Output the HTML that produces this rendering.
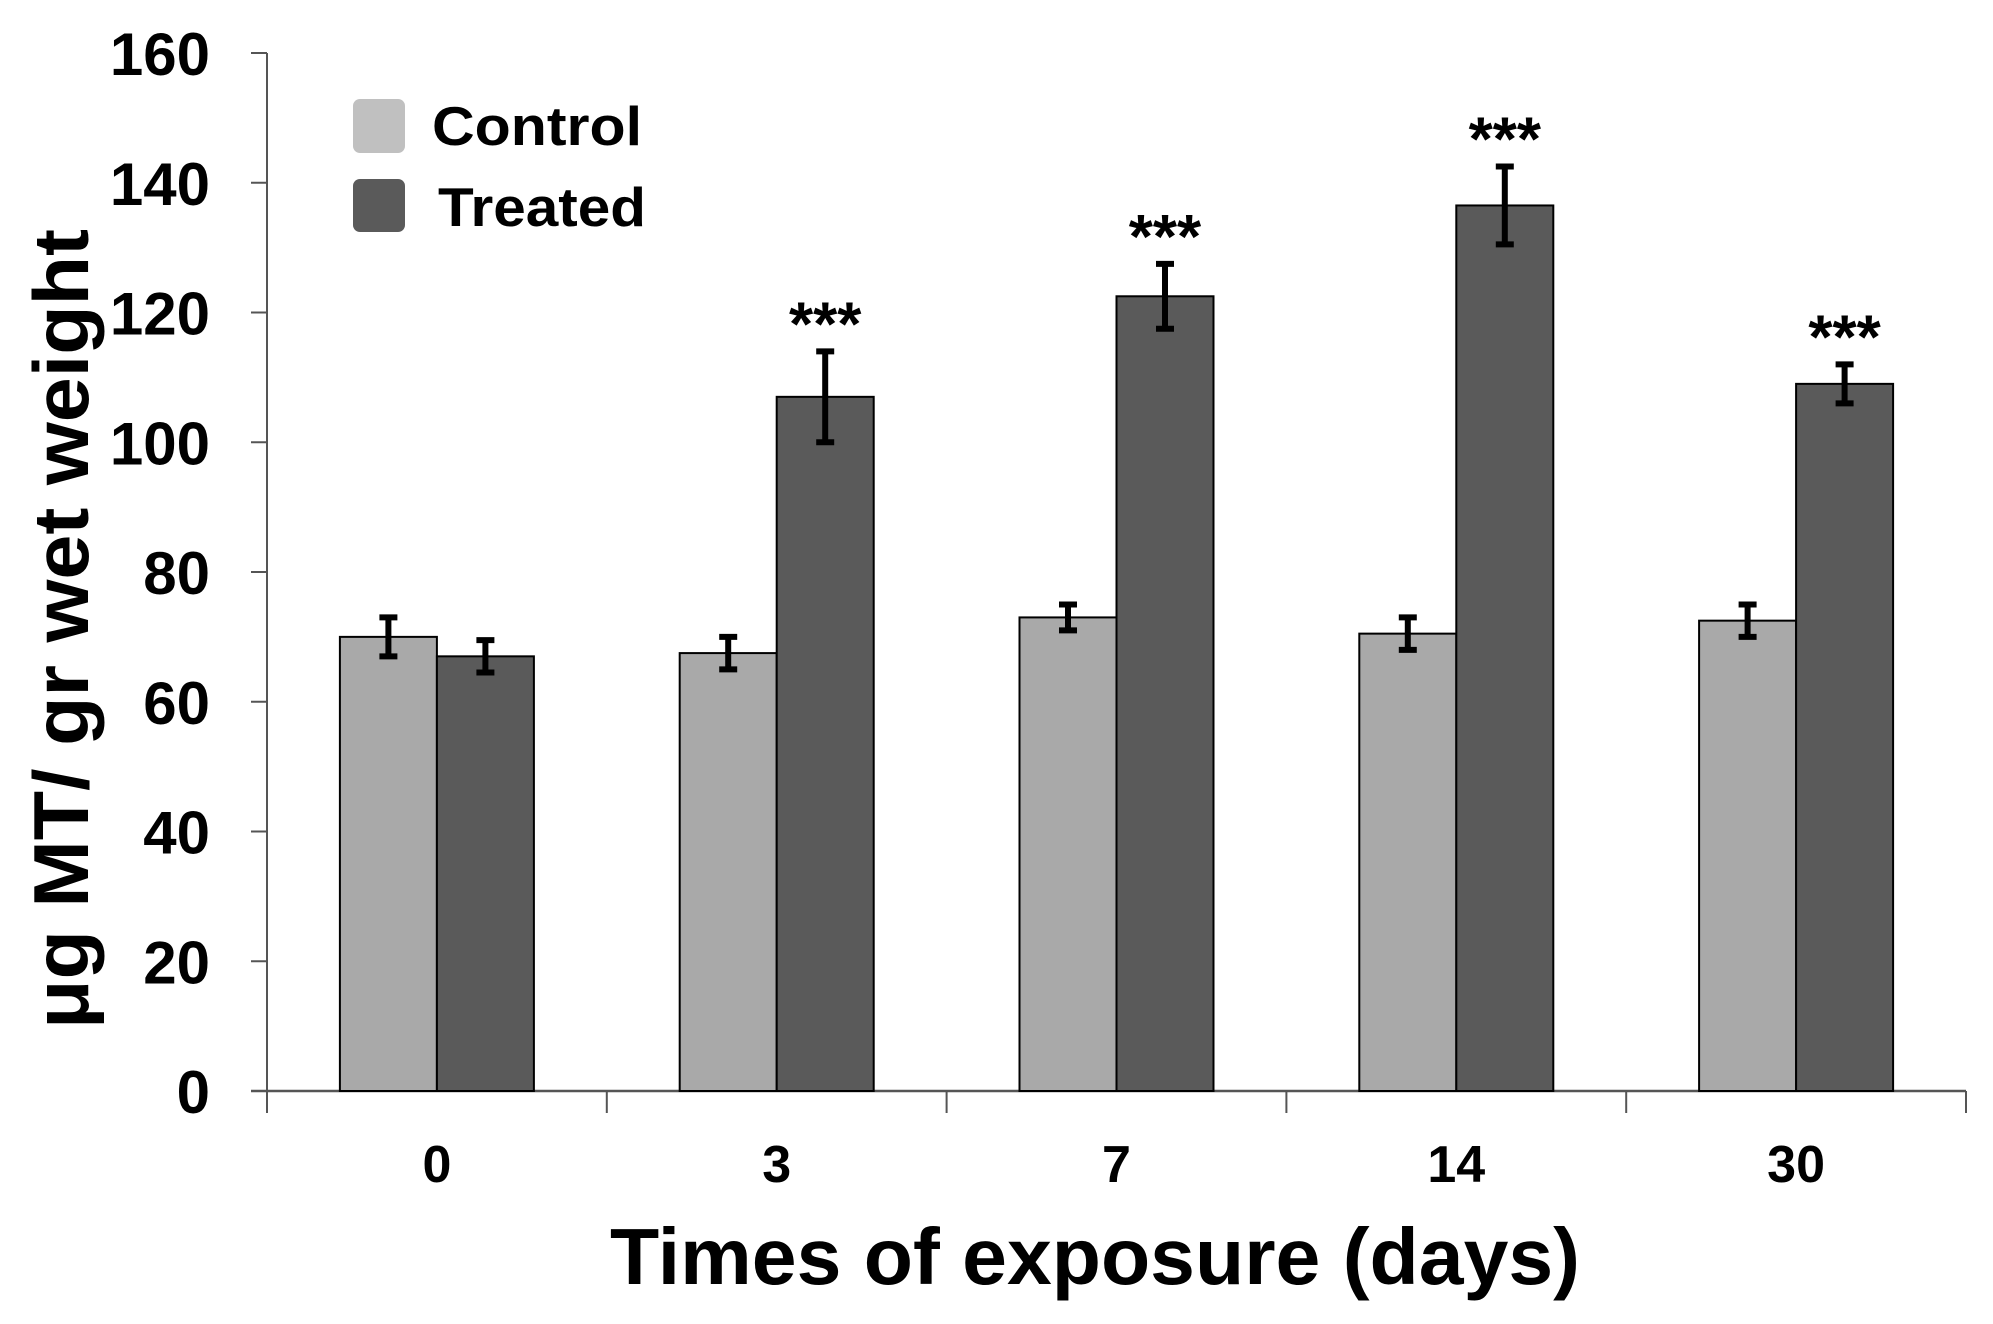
<!DOCTYPE html>
<html><head><meta charset="utf-8"><style>
html,body{margin:0;padding:0;background:#fff;}
svg{display:block;font-family:"Liberation Sans",Arial,sans-serif;font-weight:bold;}
</style></head><body>
<svg id="chart" width="1993" height="1324" viewBox="0 0 1993 1324">
<g id="axes"></g><g id="bars"></g>
<text transform="translate(88,629) rotate(-90)" text-anchor="middle" font-size="78" textLength="800" lengthAdjust="spacingAndGlyphs">μg MT/ gr wet weight</text>
<text x="1095" y="1284" text-anchor="middle" font-size="80" textLength="970" lengthAdjust="spacingAndGlyphs">Times of exposure (days)</text>
<g>
<rect x="353" y="99" width="52" height="54" rx="7" fill="#c0c0c0"/>
<text x="432" y="145" font-size="55" textLength="210" lengthAdjust="spacingAndGlyphs">Control</text>
<rect x="353" y="179" width="52" height="53" rx="7" fill="#5a5a5a"/>
<text x="438" y="226" font-size="55" textLength="208" lengthAdjust="spacingAndGlyphs">Treated</text>
</g>
</svg>
<script>
const categories = ["0","3","7","14","30"];
const controlValues = [70,67.5,73,70.5,72.5];
const controlErrors = [3,2.5,2,2.5,2.5];
const treatedValues = [67,107,122.5,136.5,109];
const treatedErrors = [2.5,7,5,6,3];
const significance = ["","***","***","***","***"];
const yTicks = [0,20,40,60,80,100,120,140,160];

const NS="http://www.w3.org/2000/svg";
const x0=267, x1=1966, yTop=53, yBot=1091, yMax=160;
const y = v => yBot - v/yMax*(yBot-yTop);
const groupW = (x1-x0)/categories.length;
const barW = 97;
function mk(tag, attrs, parent){const e=document.createElementNS(NS,tag);for(const k in attrs)e.setAttribute(k,attrs[k]);parent.appendChild(e);return e;}
const axes=document.getElementById('axes'), bars=document.getElementById('bars');

let yl=mk('line',{x1:x0,y1:yTop,x2:x0,y2:yBot,stroke:'#555','stroke-width':2},axes);


yTicks.forEach(t=>{
  let tk=mk('line',{x1:x0-16,y1:y(t),x2:x0,y2:y(t),stroke:'#555','stroke-width':2},axes);
  
  
  let tl=mk('text',{x:210,y:y(t)+22,'text-anchor':'end','font-size':60},axes);
  
  
  tl.textContent=t;
});
let xl=mk('line',{x1:x0-16,y1:yBot,x2:x1,y2:yBot,stroke:'#555','stroke-width':2.5},axes);


for(let i=0;i<=categories.length;i++){
  let tk=mk('line',{x1:x0+i*groupW,y1:yBot,x2:x0+i*groupW,y2:yBot+22,stroke:'#555','stroke-width':2},axes);
  
  
}
function errBar(cx,v,e,name){
  const g=mk('g',{stroke:'#000','stroke-width':6},bars);
  
  
  mk('line',{x1:cx,y1:y(v+e),x2:cx,y2:y(v-e)},g);
  mk('line',{x1:cx-9,y1:y(v+e),x2:cx+9,y2:y(v+e)},g);
  mk('line',{x1:cx-9,y1:y(v-e),x2:cx+9,y2:y(v-e)},g);
}
categories.forEach((c,i)=>{
  const cx=x0+groupW*(i+0.5);
  let b1=mk('rect',{x:cx-barW,y:y(controlValues[i]),width:barW,height:yBot-y(controlValues[i]),fill:'#a9a9a9',stroke:'#000','stroke-width':2},bars);
  
  
  let b2=mk('rect',{x:cx,y:y(treatedValues[i]),width:barW,height:yBot-y(treatedValues[i]),fill:'#5a5a5a',stroke:'#000','stroke-width':2},bars);
  
  
  errBar(cx-barW/2,controlValues[i],controlErrors[i],'error-bar-control-'+c);
  errBar(cx+barW/2,treatedValues[i],treatedErrors[i],'error-bar-treated-'+c);
  if(significance[i]){
    let s=mk('text',{x:cx+barW/2,y:y(treatedValues[i]+treatedErrors[i])-6,'text-anchor':'middle','font-size':62},bars);
    
    
    s.textContent=significance[i];
  }
  let xt=mk('text',{x:cx,y:1182,'text-anchor':'middle','font-size':52},axes);
  
  
  xt.textContent=c;
});
</script>
</body></html>
